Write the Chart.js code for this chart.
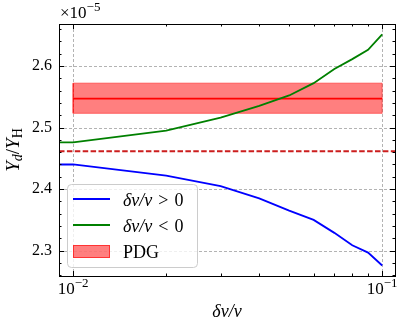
<!DOCTYPE html>
<html>
<head>
<meta charset="utf-8">
<script src="https://cdn.jsdelivr.net/npm/chart.js@4.4.1/dist/chart.umd.min.js"></script>
<style>
  body { margin: 0; background: #fff; }
</style>
</head>
<body>
<canvas id="myChart" width="407" height="329"></canvas>
<script>
// values in units of 1e-5
const xVals = [0.009, 0.01, 0.02, 0.03, 0.04, 0.05, 0.06, 0.07, 0.08, 0.09, 0.1];
const bluePos = [2.440, 2.440, 2.422, 2.405, 2.385, 2.365, 2.350, 2.329, 2.309, 2.297, 2.276];
const greenNeg = [2.476, 2.476, 2.495, 2.516, 2.535, 2.552, 2.572, 2.595, 2.611, 2.626, 2.651];
const pdgX = [0.01, 0.1];
const pdgCentral = 2.547;
const pdgLow = 2.523;
const pdgHigh = 2.572;
const refX = [0.009, 0.11];
const refY = 2.4615;
const xMajor = [0.01, 0.1];
const xMinor = [0.02, 0.03, 0.04, 0.05, 0.06, 0.07, 0.08, 0.09];
const yTicks = [2.26, 2.28, 2.30, 2.32, 2.34, 2.36, 2.38, 2.40, 2.42, 2.44, 2.46, 2.48, 2.50, 2.52, 2.54, 2.56, 2.58, 2.60, 2.62, 2.64, 2.66];
const yMajor = [2.3, 2.4, 2.5, 2.6];

const pts = (xs, ys) => xs.map((x, i) => ({x: x, y: ys[i]}));
const isMajorY = v => yMajor.some(m => Math.abs(m - v) < 1e-6);

const SERIF = "'Liberation Serif', 'DejaVu Serif', serif";

// draw a run of text pieces (for super/subscripts)
function drawMath(ctx, parts, x, y, align) {
    let w = 0;
    parts.forEach(p => { ctx.font = p.font; w += ctx.measureText(p.t).width + (p.gap || 0); });
    let cx = align === 'center' ? x - w / 2 : (align === 'right' ? x - w : x);
    ctx.textAlign = 'left';
    ctx.textBaseline = 'alphabetic';
    parts.forEach(p => {
        ctx.font = p.font;
        ctx.fillText(p.t, cx, y + (p.dy || 0));
        cx += ctx.measureText(p.t).width + (p.gap || 0);
    });
}

const deco = {
    id: 'deco',
    beforeDatasetsDraw(chart) {
        const {ctx, chartArea: a, scales: {x, y}} = chart;
        ctx.save();
        ctx.strokeStyle = '#a0a0a0';
        ctx.lineWidth = 0.8;
        ctx.setLineDash([3, 2]);
        xMajor.forEach(v => {
            const px = Math.round(x.getPixelForValue(v)) + 0.5;
            ctx.beginPath(); ctx.moveTo(px, a.top); ctx.lineTo(px, a.bottom); ctx.stroke();
        });
        yMajor.forEach(v => {
            const py = Math.round(y.getPixelForValue(v)) + 0.5;
            ctx.beginPath(); ctx.moveTo(a.left, py); ctx.lineTo(a.right, py); ctx.stroke();
        });
        ctx.restore();
    },
    afterDraw(chart) {
        const {ctx, chartArea: a, scales: {x, y}} = chart;
        ctx.save();
        ctx.fillStyle = '#000';
        ctx.strokeStyle = '#000';

        // legend
        const lx = 67, ly = 184, lw = 130, lh = 83;
        ctx.beginPath();
        ctx.roundRect(lx + 0.5, ly + 0.5, lw, lh, 4);
        ctx.fillStyle = 'rgba(255,255,255,0.8)';
        ctx.fill();
        ctx.strokeStyle = '#cccccc';
        ctx.lineWidth = 1;
        ctx.stroke();

        ctx.lineWidth = 1.8;
        ctx.strokeStyle = 'blue';
        ctx.beginPath(); ctx.moveTo(73, 199); ctx.lineTo(110, 199); ctx.stroke();
        ctx.strokeStyle = 'green';
        ctx.beginPath(); ctx.moveTo(73, 225); ctx.lineTo(110, 225); ctx.stroke();
        ctx.fillStyle = 'rgba(255,0,0,0.5)';
        ctx.fillRect(73, 245, 37, 13);
        ctx.strokeStyle = 'rgba(255,0,0,0.6)';
        ctx.lineWidth = 1;
        ctx.strokeRect(73.5, 245.5, 36, 12);

        ctx.fillStyle = '#000';
        const it = "italic 18px " + SERIF, rm = "18px " + SERIF;
        drawMath(ctx, [{t: 'δv/v', font: it, gap: 6}, {t: '>', font: rm, gap: 6}, {t: '0', font: rm}], 123, 206, 'left');
        drawMath(ctx, [{t: 'δv/v', font: it, gap: 6}, {t: '<', font: rm, gap: 6}, {t: '0', font: rm}], 123, 232, 'left');
        drawMath(ctx, [{t: 'PDG', font: rm}], 123, 258, 'left');

        // frame
        ctx.lineWidth = 1;
        ctx.strokeStyle = '#000';
        ctx.strokeRect(a.left + 0.5, a.top + 0.5, a.right - a.left, a.bottom - a.top);

        // inward ticks
        ctx.beginPath();
        xMajor.concat(xMinor).forEach(v => {
            const px = Math.round(x.getPixelForValue(v)) + 0.5;
            const len = xMajor.includes(v) ? 5 : 2.5;
            ctx.moveTo(px, a.bottom); ctx.lineTo(px, a.bottom - len);
            ctx.moveTo(px, a.top); ctx.lineTo(px, a.top + len);
        });
        yTicks.forEach(v => {
            const py = Math.round(y.getPixelForValue(v)) + 0.5;
            const len = isMajorY(v) ? 5 : 2.5;
            ctx.moveTo(a.left, py); ctx.lineTo(a.left + len, py);
            ctx.moveTo(a.right, py); ctx.lineTo(a.right - len, py);
        });
        ctx.stroke();

        // x tick labels 10^-2, 10^-1
        const big = "17px " + SERIF, sup = "13px " + SERIF;
        drawMath(ctx, [{t: '10', font: big}, {t: '−2', font: sup, dy: -7}], x.getPixelForValue(0.01), 294, 'center');
        drawMath(ctx, [{t: '10', font: big}, {t: '−1', font: sup, dy: -7}], x.getPixelForValue(0.1), 294, 'center');

        // offset text
        drawMath(ctx, [{t: '×10', font: big}, {t: '−5', font: sup, dy: -7}], 60, 18, 'left');

        // axis titles
        drawMath(ctx, [{t: 'δv/v', font: it}], (a.left + a.right) / 2, 317, 'center');

        ctx.translate(19, (a.top + a.bottom) / 2);
        ctx.rotate(-Math.PI / 2);
        const yt = "italic 19px " + SERIF, yr = "19px " + SERIF;
        const sub = "italic 14px " + SERIF, subr = "14px " + SERIF;
        drawMath(ctx, [
            {t: 'Y', font: yt},
            {t: 'd', font: sub, dy: 3},
            {t: '/', font: yr},
            {t: 'Y', font: yt},
            {t: 'H', font: subr, dy: 3}
        ], 0, 0, 'center');
        ctx.restore();
    }
};

const ctx = document.getElementById('myChart');

new Chart(ctx, {
    type: 'line',
    data: {
        datasets: [{
            label: 'δv/v > 0',
            data: pts(xVals, bluePos),
            borderColor: 'blue',
            borderWidth: 1.8
        }, {
            label: 'δv/v < 0',
            data: pts(xVals, greenNeg),
            borderColor: 'green',
            borderWidth: 1.8
        }, {
            label: 'PDG',
            data: pts(pdgX, [pdgCentral, pdgCentral]),
            borderColor: 'red',
            borderWidth: 1.8
        }, {
            label: 'PDG edge',
            data: pts([pdgX[0], pdgX[1], pdgX[1], pdgX[0], pdgX[0]], [pdgLow, pdgLow, pdgHigh, pdgHigh, pdgLow]),
            borderColor: 'rgba(255,0,0,0.5)',
            borderWidth: 1
        }, {
            label: 'PDG low',
            data: pts(pdgX, [pdgLow, pdgLow]),
            borderWidth: 0,
            borderColor: 'rgba(0,0,0,0)'
        }, {
            label: 'PDG high',
            data: pts(pdgX, [pdgHigh, pdgHigh]),
            borderWidth: 0,
            borderColor: 'rgba(0,0,0,0)',
            backgroundColor: 'rgba(255,0,0,0.5)',
            fill: '-1'
        }, {
            label: 'ref',
            data: pts(refX, [refY, refY]),
            borderColor: 'rgb(204,30,30)',
            borderWidth: 1.8,
            borderDash: [5.5, 2.4]
        }]
    },
    options: {
        responsive: false,
        animation: false,
        devicePixelRatio: 1,
        layout: {
            padding: {top: 24, right: 12, left: 0, bottom: 0}
        },
        elements: {
            point: {radius: 0, hoverRadius: 0},
            line: {tension: 0}
        },
        scales: {
            x: {
                type: 'logarithmic',
                min: 0.009,
                max: 0.11,
                grid: {display: false, drawTicks: false},
                border: {display: false},
                ticks: {display: false},
                afterFit(s) { s.height = 53; }
            },
            y: {
                min: 2.259,
                max: 2.668,
                afterBuildTicks(s) { s.ticks = yTicks.map(v => ({value: v})); },
                grid: {display: false, drawTicks: false},
                border: {display: false},
                ticks: {
                    color: '#000',
                    padding: 7,
                    autoSkip: false,
                    font: {family: SERIF, size: 16},
                    callback: v => isMajorY(v) ? v.toFixed(1) : ''
                },
                afterFit(s) { s.width = 59; }
            }
        },
        plugins: {
            legend: {display: false},
            tooltip: {enabled: false}
        }
    },
    plugins: [deco]
});
</script>
</body>
</html>
